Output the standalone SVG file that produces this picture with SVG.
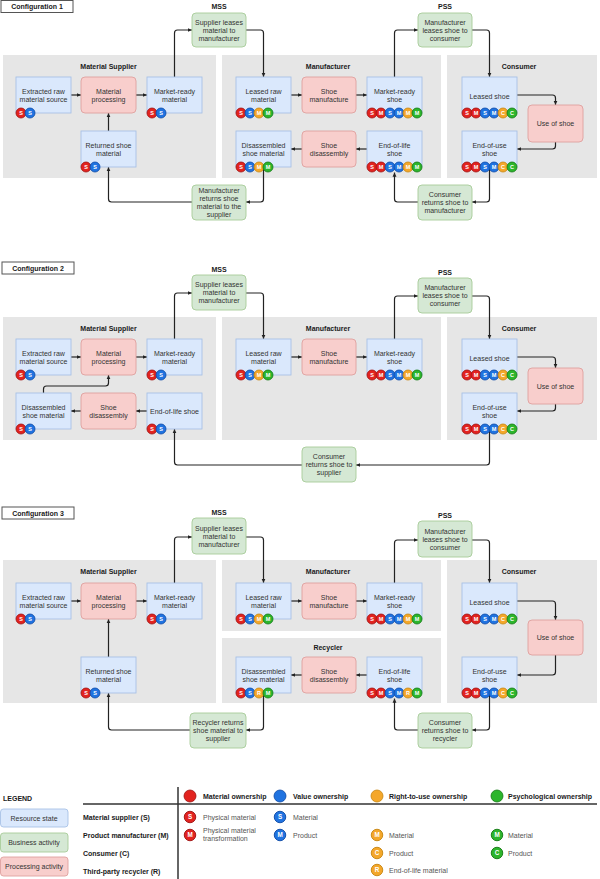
<svg xmlns="http://www.w3.org/2000/svg" xmlns:xlink="http://www.w3.org/1999/xlink" width="600" height="879" viewBox="0 0 600 879">
<style>
text{font-family:"Liberation Sans",Arial,sans-serif;font-size:7px;fill:#333;text-anchor:middle}
.hd{font-weight:bold;fill:#1a1a1a}
.lt{text-anchor:start}
.ent{text-anchor:start;fill:#555}
.pn{fill:#e6e6e6}
.res{fill:#dae8fc;stroke:#a8c2e6;stroke-width:0.9}
.pro{fill:#f8cecc;stroke:#dfa09e;stroke-width:0.9}
.bus{fill:#d5e8d4;stroke:#a7cc99;stroke-width:0.9}
.ttl{fill:#fff;stroke:#555;stroke-width:1}
.cn{fill:none;stroke:#222;stroke-width:1.2;marker-end:url(#ah)}
.r{fill:#e2231f;stroke:#9e1010;stroke-width:0.8}
.b{fill:#2073e0;stroke:#0c49a6;stroke-width:0.8}
.o{fill:#f4a72a;stroke:#c7850f;stroke-width:0.8}
.g{fill:#2cb52c;stroke:#137913;stroke-width:0.8}
.bl{font-size:5.5px;font-weight:bold;fill:#fff}
.sep{stroke:#333;stroke-width:1.5}
</style>
<defs>
<marker id="ah" viewBox="0 0 10 10" refX="10" refY="5" markerWidth="3.6" markerHeight="3.6" orient="auto"><path d="M0,0.5 L10,5 L0,9.5 z" fill="#222"/></marker>
<g id="rS"><circle r="5" class="r"/><text class="bl" y="2">S</text></g>
<g id="rM"><circle r="5" class="r"/><text class="bl" y="2">M</text></g>
<g id="bS"><circle r="5" class="b"/><text class="bl" y="2">S</text></g>
<g id="bM"><circle r="5" class="b"/><text class="bl" y="2">M</text></g>
<g id="oM"><circle r="5" class="o"/><text class="bl" y="2">M</text></g>
<g id="oC"><circle r="5" class="o"/><text class="bl" y="2">C</text></g>
<g id="oR"><circle r="5" class="o"/><text class="bl" y="2">R</text></g>
<g id="gM"><circle r="5" class="g"/><text class="bl" y="2">M</text></g>
<g id="gC"><circle r="5" class="g"/><text class="bl" y="2">C</text></g>
</defs>
<rect width="600" height="879" fill="#fff"/>

<!-- ================= CONFIGURATION 1 ================= -->
<g id="c1-title"><rect class="ttl" x="1" y="0.5" width="72" height="12"/><text class="hd" x="37" y="9">Configuration 1</text></g>
<g id="c1-ms-panel"><rect class="pn" x="3" y="55" width="213" height="123"/><text class="hd" x="108.5" y="68.5">Material Supplier</text></g>
<g id="c1-mf-panel"><rect class="pn" x="222" y="55" width="219" height="123"/><text class="hd" x="328" y="68.5">Manufacturer</text></g>
<g id="c1-co-panel"><rect class="pn" x="447" y="55" width="150" height="123"/><text class="hd" x="519" y="68.5">Consumer</text></g>
<text class="hd" x="219" y="8.5">MSS</text>
<text class="hd" x="445" y="8.5">PSS</text>

<g id="c1-connectors">
<path class="cn" d="M70,95 H81"/>
<path class="cn" d="M136,95 H147"/>
<path class="cn" d="M108.5,131 V113"/>
<path class="cn" d="M174.5,77 V33 Q174.5,30 177.5,30 H192"/>
<path class="cn" d="M246,30 H260.5 Q263.5,30 263.5,33 V77"/>
<path class="cn" d="M291,95 H302"/>
<path class="cn" d="M356,95 H367"/>
<path class="cn" d="M367,149 H356"/>
<path class="cn" d="M302,149 H291"/>
<path class="cn" d="M394.5,77 V33 Q394.5,30 397.5,30 H418"/>
<path class="cn" d="M472,30 H486.5 Q489.5,30 489.5,33 V77"/>
<path class="cn" d="M517,95 H552.5 Q555.5,95 555.5,98 V105"/>
<path class="cn" d="M555.5,142 V146 Q555.5,149 552.5,149 H517"/>
<path class="cn" d="M489.5,167 V199 Q489.5,202 486.5,202 H472"/>
<path class="cn" d="M418,202 H397.5 Q394.5,202 394.5,199 V172.5"/>
<path class="cn" d="M263.5,167 V199 Q263.5,202 260.5,202 H246"/>
<path class="cn" d="M192,202 H111.5 Q108.5,202 108.5,199 V167"/>
</g>

<g id="c1-extracted"><rect class="res" x="16" y="77" width="55" height="36"/><text x="43.5" y="94">Extracted raw</text><text x="43.5" y="102.2">material source</text><use href="#rS" x="21" y="113"/><use href="#bS" x="30" y="113"/></g>
<g id="c1-processing"><rect class="pro" x="81" y="77" width="55" height="36" rx="4"/><text x="108.5" y="94">Material</text><text x="108.5" y="102.2">processing</text></g>
<g id="c1-marketmat"><rect class="res" x="147" y="77" width="55" height="36"/><text x="174.5" y="94">Market-ready</text><text x="174.5" y="102.2">material</text><use href="#rS" x="152" y="113"/><use href="#bS" x="161" y="113"/></g>
<g id="c1-returned"><rect class="res" x="81" y="131" width="55" height="36"/><text x="108.5" y="148">Returned shoe</text><text x="108.5" y="156.2">material</text><use href="#rS" x="86" y="167"/><use href="#bS" x="95" y="167"/></g>
<g id="c1-mss"><rect class="bus" x="192" y="13" width="54" height="34" rx="4"/><text x="219" y="24.5">Supplier leases</text><text x="219" y="32.5">material to</text><text x="219" y="40.5">manufacturer</text></g>
<g id="c1-leasedraw"><rect class="res" x="236" y="77" width="55" height="36"/><text x="263.5" y="94">Leased raw</text><text x="263.5" y="102.2">material</text><use href="#rS" x="241" y="113"/><use href="#bS" x="250" y="113"/><use href="#oM" x="259" y="113"/><use href="#gM" x="268" y="113"/></g>
<g id="c1-manufacture"><rect class="pro" x="302" y="77" width="54" height="36" rx="4"/><text x="329" y="94">Shoe</text><text x="329" y="102.2">manufacture</text></g>
<g id="c1-marketshoe"><rect class="res" x="367" y="77" width="55" height="36"/><text x="394.5" y="94">Market-ready</text><text x="394.5" y="102.2">shoe</text><use href="#rS" x="372" y="113"/><use href="#rM" x="381" y="113"/><use href="#bS" x="390" y="113"/><use href="#bM" x="399" y="113"/><use href="#oM" x="408" y="113"/><use href="#gM" x="417" y="113"/></g>
<g id="c1-disassembled"><rect class="res" x="236" y="131" width="55" height="36"/><text x="263.5" y="148">Disassembled</text><text x="263.5" y="156.2">shoe material</text><use href="#rS" x="241" y="167"/><use href="#bS" x="250" y="167"/><use href="#oM" x="259" y="167"/><use href="#gM" x="268" y="167"/></g>
<g id="c1-disassembly"><rect class="pro" x="302" y="131" width="54" height="36" rx="4"/><text x="329" y="148">Shoe</text><text x="329" y="156.2">disassembly</text></g>
<g id="c1-eol"><rect class="res" x="367" y="131" width="55" height="36"/><text x="394.5" y="148">End-of-life</text><text x="394.5" y="156.2">shoe</text><use href="#rS" x="372" y="167"/><use href="#rM" x="381" y="167"/><use href="#bS" x="390" y="167"/><use href="#bM" x="399" y="167"/><use href="#oM" x="408" y="167"/><use href="#gM" x="417" y="167"/></g>
<g id="c1-pss"><rect class="bus" x="418" y="13" width="54" height="34" rx="4"/><text x="445" y="24.5">Manufacturer</text><text x="445" y="32.5">leases shoe to</text><text x="445" y="40.5">consumer</text></g>
<g id="c1-leasedshoe"><rect class="res" x="462" y="77" width="55" height="36"/><text x="489.5" y="98.5">Leased shoe</text><use href="#rS" x="467" y="113"/><use href="#rM" x="476" y="113"/><use href="#bS" x="485" y="113"/><use href="#bM" x="494" y="113"/><use href="#oC" x="503" y="113"/><use href="#gC" x="512" y="113"/></g>
<g id="c1-use"><rect class="pro" x="528" y="105" width="55" height="37" rx="4"/><text x="555.5" y="126">Use of shoe</text></g>
<g id="c1-eou"><rect class="res" x="462" y="131" width="55" height="36"/><text x="489.5" y="148">End-of-use</text><text x="489.5" y="156.2">shoe</text><use href="#rS" x="467" y="167"/><use href="#rM" x="476" y="167"/><use href="#bS" x="485" y="167"/><use href="#bM" x="494" y="167"/><use href="#oC" x="503" y="167"/><use href="#gC" x="512" y="167"/></g>
<g id="c1-mfr-returns"><rect class="bus" x="192" y="185" width="54" height="35" rx="4"/><text x="219" y="193.3">Manufacturer</text><text x="219" y="201.1">returns shoe</text><text x="219" y="208.9">material to the</text><text x="219" y="216.7">supplier</text></g>
<g id="c1-con-returns"><rect class="bus" x="418" y="185" width="54" height="35" rx="4"/><text x="445" y="197">Consumer</text><text x="445" y="205">returns shoe to</text><text x="445" y="213">manufacturer</text></g>

<!-- ================= CONFIGURATION 2 ================= -->
<g id="c2-title"><rect class="ttl" x="2" y="262" width="72" height="12"/><text class="hd" x="38" y="270.5">Configuration 2</text></g>
<g id="c2-ms-panel"><rect class="pn" x="3" y="317" width="213" height="123"/><text class="hd" x="108.5" y="330.5">Material Supplier</text></g>
<g id="c2-mf-panel"><rect class="pn" x="222" y="317" width="219" height="123"/><text class="hd" x="328" y="330.5">Manufacturer</text></g>
<g id="c2-co-panel"><rect class="pn" x="447" y="317" width="150" height="123"/><text class="hd" x="519" y="330.5">Consumer</text></g>
<text class="hd" x="219" y="271.5">MSS</text>
<text class="hd" x="445" y="274.5">PSS</text>

<g id="c2-connectors">
<path class="cn" d="M71,357 H81"/>
<path class="cn" d="M136,357 H147"/>
<path class="cn" d="M147,411 H136"/>
<path class="cn" d="M81,411 H71"/>
<path class="cn" d="M43.5,393 V389 Q43.5,386 46.5,386 H105.5 Q108.5,386 108.5,383 V375"/>
<path class="cn" d="M174.5,339 V296 Q174.5,293 177.5,293 H192"/>
<path class="cn" d="M246,293 H260.5 Q263.5,293 263.5,296 V339"/>
<path class="cn" d="M291,357 H302"/>
<path class="cn" d="M356,357 H367"/>
<path class="cn" d="M394.5,339 V299 Q394.5,296 397.5,296 H418"/>
<path class="cn" d="M472,296 H486.5 Q489.5,296 489.5,299 V339"/>
<path class="cn" d="M517,357 H552.5 Q555.5,357 555.5,360 V368"/>
<path class="cn" d="M555.5,404 V408 Q555.5,411 552.5,411 H517"/>
<path class="cn" d="M489.5,429 V462 Q489.5,465 486.5,465 H356"/>
<path class="cn" d="M302,465 H177.5 Q174.5,465 174.5,462 V429"/>
</g>

<g id="c2-extracted"><rect class="res" x="16" y="339" width="55" height="36"/><text x="43.5" y="356">Extracted raw</text><text x="43.5" y="364.2">material source</text><use href="#rS" x="21" y="375"/><use href="#bS" x="30" y="375"/></g>
<g id="c2-processing"><rect class="pro" x="81" y="339" width="55" height="36" rx="4"/><text x="108.5" y="356">Material</text><text x="108.5" y="364.2">processing</text></g>
<g id="c2-marketmat"><rect class="res" x="147" y="339" width="55" height="36"/><text x="174.5" y="356">Market-ready</text><text x="174.5" y="364.2">material</text><use href="#rS" x="152" y="375"/><use href="#bS" x="161" y="375"/></g>
<g id="c2-disassembled"><rect class="res" x="16" y="393" width="55" height="36"/><text x="43.5" y="410">Disassembled</text><text x="43.5" y="418.2">shoe material</text><use href="#rS" x="21" y="429"/><use href="#bS" x="30" y="429"/></g>
<g id="c2-disassembly"><rect class="pro" x="81" y="393" width="55" height="36" rx="4"/><text x="108.5" y="410">Shoe</text><text x="108.5" y="418.2">disassembly</text></g>
<g id="c2-eol"><rect class="res" x="147" y="393" width="55" height="36"/><text x="174.5" y="414">End-of-life shoe</text><use href="#rS" x="152" y="429"/><use href="#bS" x="161" y="429"/></g>
<g id="c2-mss"><rect class="bus" x="192" y="275" width="54" height="35" rx="4"/><text x="219" y="287">Supplier leases</text><text x="219" y="295">material to</text><text x="219" y="303">manufacturer</text></g>
<g id="c2-leasedraw"><rect class="res" x="236" y="339" width="55" height="36"/><text x="263.5" y="356">Leased raw</text><text x="263.5" y="364.2">material</text><use href="#rS" x="241" y="375"/><use href="#bS" x="250" y="375"/><use href="#oM" x="259" y="375"/><use href="#gM" x="268" y="375"/></g>
<g id="c2-manufacture"><rect class="pro" x="302" y="339" width="54" height="36" rx="4"/><text x="329" y="356">Shoe</text><text x="329" y="364.2">manufacture</text></g>
<g id="c2-marketshoe"><rect class="res" x="367" y="339" width="55" height="36"/><text x="394.5" y="356">Market-ready</text><text x="394.5" y="364.2">shoe</text><use href="#rS" x="372" y="375"/><use href="#rM" x="381" y="375"/><use href="#bS" x="390" y="375"/><use href="#bM" x="399" y="375"/><use href="#oM" x="408" y="375"/><use href="#gM" x="417" y="375"/></g>
<g id="c2-pss"><rect class="bus" x="418" y="278" width="54" height="35" rx="4"/><text x="445" y="290">Manufacturer</text><text x="445" y="298">leases shoe to</text><text x="445" y="306">consumer</text></g>
<g id="c2-leasedshoe"><rect class="res" x="462" y="339" width="55" height="36"/><text x="489.5" y="360.5">Leased shoe</text><use href="#rS" x="467" y="375"/><use href="#rM" x="476" y="375"/><use href="#bS" x="485" y="375"/><use href="#bM" x="494" y="375"/><use href="#oC" x="503" y="375"/><use href="#gC" x="512" y="375"/></g>
<g id="c2-use"><rect class="pro" x="528" y="368" width="55" height="36" rx="4"/><text x="555.5" y="388.5">Use of shoe</text></g>
<g id="c2-eou"><rect class="res" x="462" y="393" width="55" height="36"/><text x="489.5" y="410">End-of-use</text><text x="489.5" y="418.2">shoe</text><use href="#rS" x="467" y="429"/><use href="#rM" x="476" y="429"/><use href="#bS" x="485" y="429"/><use href="#bM" x="494" y="429"/><use href="#oC" x="503" y="429"/><use href="#gC" x="512" y="429"/></g>
<g id="c2-con-returns"><rect class="bus" x="302" y="447" width="54" height="35" rx="4"/><text x="329" y="459">Consumer</text><text x="329" y="467">returns shoe to</text><text x="329" y="475">supplier</text></g>

<!-- ================= CONFIGURATION 3 ================= -->
<g id="c3-title"><rect class="ttl" x="2" y="507" width="72" height="12"/><text class="hd" x="38" y="515.5">Configuration 3</text></g>
<g id="c3-ms-panel"><rect class="pn" x="3" y="560" width="213" height="143"/><text class="hd" x="108.5" y="574">Material Supplier</text></g>
<g id="c3-mf-panel"><rect class="pn" x="222" y="560" width="219" height="71"/><text class="hd" x="328" y="574">Manufacturer</text></g>
<g id="c3-rc-panel"><rect class="pn" x="222" y="638" width="219" height="65"/><text class="hd" x="328" y="650">Recycler</text></g>
<g id="c3-co-panel"><rect class="pn" x="447" y="560" width="150" height="143"/><text class="hd" x="519" y="574">Consumer</text></g>
<text class="hd" x="219" y="514.5">MSS</text>
<text class="hd" x="445" y="517.5">PSS</text>

<g id="c3-connectors">
<path class="cn" d="M71,601 H81"/>
<path class="cn" d="M136,601 H147"/>
<path class="cn" d="M108.5,657 V619"/>
<path class="cn" d="M174.5,583 V540 Q174.5,537 177.5,537 H192"/>
<path class="cn" d="M246,537 H260.5 Q263.5,537 263.5,540 V583"/>
<path class="cn" d="M291,601 H302"/>
<path class="cn" d="M356,601 H367"/>
<path class="cn" d="M367,675 H356"/>
<path class="cn" d="M302,675 H291"/>
<path class="cn" d="M394.5,583 V543 Q394.5,540 397.5,540 H418"/>
<path class="cn" d="M472,540 H486.5 Q489.5,540 489.5,543 V583"/>
<path class="cn" d="M517,601 H552.5 Q555.5,601 555.5,604 V620"/>
<path class="cn" d="M555.5,655 V672 Q555.5,675 552.5,675 H517"/>
<path class="cn" d="M489.5,693 V727 Q489.5,730 486.5,730 H472"/>
<path class="cn" d="M418,730 H397.5 Q394.5,730 394.5,727 V698.5"/>
<path class="cn" d="M263.5,693 V727 Q263.5,730 260.5,730 H246"/>
<path class="cn" d="M190,730 H111.5 Q108.5,730 108.5,727 V693"/>
</g>

<g id="c3-extracted"><rect class="res" x="16" y="583" width="55" height="36"/><text x="43.5" y="600">Extracted raw</text><text x="43.5" y="608.2">material source</text><use href="#rS" x="21" y="619"/><use href="#bS" x="30" y="619"/></g>
<g id="c3-processing"><rect class="pro" x="81" y="583" width="55" height="36" rx="4"/><text x="108.5" y="600">Material</text><text x="108.5" y="608.2">processing</text></g>
<g id="c3-marketmat"><rect class="res" x="147" y="583" width="55" height="36"/><text x="174.5" y="600">Market-ready</text><text x="174.5" y="608.2">material</text><use href="#rS" x="152" y="619"/><use href="#bS" x="161" y="619"/></g>
<g id="c3-returned"><rect class="res" x="81" y="657" width="55" height="36"/><text x="108.5" y="674">Returned shoe</text><text x="108.5" y="682.2">material</text><use href="#rS" x="86" y="693"/><use href="#bS" x="95" y="693"/></g>
<g id="c3-mss"><rect class="bus" x="192" y="518" width="54" height="36" rx="4"/><text x="219" y="530.5">Supplier leases</text><text x="219" y="538.5">material to</text><text x="219" y="546.5">manufacturer</text></g>
<g id="c3-leasedraw"><rect class="res" x="236" y="583" width="55" height="36"/><text x="263.5" y="600">Leased raw</text><text x="263.5" y="608.2">material</text><use href="#rS" x="241" y="619"/><use href="#bS" x="250" y="619"/><use href="#oM" x="259" y="619"/><use href="#gM" x="268" y="619"/></g>
<g id="c3-manufacture"><rect class="pro" x="302" y="583" width="54" height="36" rx="4"/><text x="329" y="600">Shoe</text><text x="329" y="608.2">manufacture</text></g>
<g id="c3-marketshoe"><rect class="res" x="367" y="583" width="55" height="36"/><text x="394.5" y="600">Market-ready</text><text x="394.5" y="608.2">shoe</text><use href="#rS" x="372" y="619"/><use href="#rM" x="381" y="619"/><use href="#bS" x="390" y="619"/><use href="#bM" x="399" y="619"/><use href="#oM" x="408" y="619"/><use href="#gM" x="417" y="619"/></g>
<g id="c3-disassembled"><rect class="res" x="236" y="657" width="55" height="36"/><text x="263.5" y="674">Disassembled</text><text x="263.5" y="682.2">shoe material</text><use href="#rS" x="241" y="693"/><use href="#bS" x="250" y="693"/><use href="#oR" x="259" y="693"/><use href="#gM" x="268" y="693"/></g>
<g id="c3-disassembly"><rect class="pro" x="302" y="657" width="54" height="36" rx="4"/><text x="329" y="674">Shoe</text><text x="329" y="682.2">disassembly</text></g>
<g id="c3-eol"><rect class="res" x="367" y="657" width="55" height="36"/><text x="394.5" y="674">End-of-life</text><text x="394.5" y="682.2">shoe</text><use href="#rS" x="372" y="693"/><use href="#rM" x="381" y="693"/><use href="#bS" x="390" y="693"/><use href="#bM" x="399" y="693"/><use href="#oR" x="408" y="693"/><use href="#gM" x="417" y="693"/></g>
<g id="c3-pss"><rect class="bus" x="418" y="521" width="54" height="36" rx="4"/><text x="445" y="533.5">Manufacturer</text><text x="445" y="541.5">leases shoe to</text><text x="445" y="549.5">consumer</text></g>
<g id="c3-leasedshoe"><rect class="res" x="462" y="583" width="55" height="36"/><text x="489.5" y="604.5">Leased shoe</text><use href="#rS" x="467" y="619"/><use href="#rM" x="476" y="619"/><use href="#bS" x="485" y="619"/><use href="#bM" x="494" y="619"/><use href="#oC" x="503" y="619"/><use href="#gC" x="512" y="619"/></g>
<g id="c3-use"><rect class="pro" x="528" y="620" width="55" height="35" rx="4"/><text x="555.5" y="640">Use of shoe</text></g>
<g id="c3-eou"><rect class="res" x="462" y="657" width="55" height="36"/><text x="489.5" y="674">End-of-use</text><text x="489.5" y="682.2">shoe</text><use href="#rS" x="467" y="693"/><use href="#rM" x="476" y="693"/><use href="#bS" x="485" y="693"/><use href="#bM" x="494" y="693"/><use href="#oC" x="503" y="693"/><use href="#gC" x="512" y="693"/></g>
<g id="c3-rec-returns"><rect class="bus" x="190" y="713" width="56" height="35" rx="4"/><text x="218" y="725">Recycler returns</text><text x="218" y="733">shoe material to</text><text x="218" y="741">supplier</text></g>
<g id="c3-con-returns"><rect class="bus" x="418" y="713" width="54" height="35" rx="4"/><text x="445" y="725">Consumer</text><text x="445" y="733">returns shoe to</text><text x="445" y="741">recycler</text></g>

<!-- ================= LEGEND ================= -->
<g id="legend">
<text class="hd lt" x="3" y="800.5">LEGEND</text>
<rect class="res" x="0.5" y="809" width="67.5" height="18" rx="3"/><text x="34" y="820.5">Resource state</text>
<rect class="bus" x="0.5" y="833" width="67.5" height="19" rx="3"/><text x="34" y="845">Business activity</text>
<rect class="pro" x="0.5" y="857" width="67.5" height="19" rx="3"/><text x="34" y="869">Processing activity</text>
<line class="sep" x1="83" y1="804" x2="597" y2="804"/>
<line class="sep" x1="178" y1="787" x2="178" y2="879"/>
<text class="hd lt" x="83" y="819.5">Material supplier (S)</text>
<text class="hd lt" x="83" y="837.5">Product manufacturer (M)</text>
<text class="hd lt" x="83" y="855.5">Consumer (C)</text>
<text class="hd lt" x="83" y="873.5">Third-party recycler (R)</text>
<circle class="r" cx="190" cy="796" r="6"/><text class="hd lt" x="203" y="798.5">Material ownership</text>
<circle class="b" cx="280" cy="796" r="6"/><text class="hd lt" x="293" y="798.5">Value ownership</text>
<circle class="o" cx="377" cy="796" r="6"/><text class="hd lt" x="389" y="798.5">Right-to-use ownership</text>
<circle class="g" cx="497" cy="796" r="6"/><text class="hd lt" x="508" y="798.5">Psychological ownership</text>
<use href="#rS" transform="translate(190,817) scale(1.15)"/><text class="ent" x="203" y="819.5">Physical material</text>
<use href="#rM" transform="translate(190,835) scale(1.15)"/><text class="ent" x="203" y="833">Physical material</text><text class="ent" x="203" y="841">transformation</text>
<use href="#bS" transform="translate(280,817) scale(1.15)"/><text class="ent" x="293" y="819.5">Material</text>
<use href="#bM" transform="translate(280,835) scale(1.15)"/><text class="ent" x="293" y="837.5">Product</text>
<use href="#oM" transform="translate(377,835) scale(1.15)"/><text class="ent" x="389" y="837.5">Material</text>
<use href="#oC" transform="translate(377,853) scale(1.15)"/><text class="ent" x="389" y="855.5">Product</text>
<use href="#oR" transform="translate(377,870) scale(1.15)"/><text class="ent" x="389" y="872.5">End-of-life material</text>
<use href="#gM" transform="translate(497,835) scale(1.15)"/><text class="ent" x="508" y="837.5">Material</text>
<use href="#gC" transform="translate(497,853) scale(1.15)"/><text class="ent" x="508" y="855.5">Product</text>
</g>
</svg>
